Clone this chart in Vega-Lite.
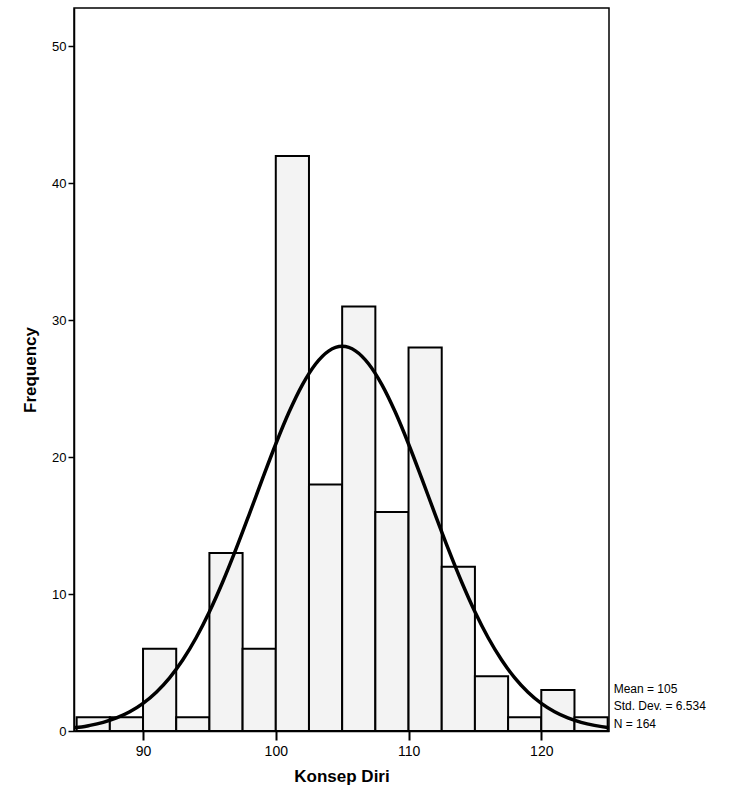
{
  "$schema": "https://vega.github.io/schema/vega-lite/v6.json",
  "width": 535,
  "height": 723,
  "autosize": {"type": "none"},
  "padding": {"left": 74, "top": 8, "right": 137, "bottom": 68},
  "background": "white",
  "config": {
    "view": {"stroke": "black", "strokeWidth": 1.5},
    "font": "Liberation Sans",
    "axis": {"domainColor": "black", "tickColor": "black", "labelColor": "black", "titleColor": "black", "grid": false, "labelFont": "Liberation Sans", "titleFont": "Liberation Sans"}
  },
  "datasets": {
    "bins": [
      {"start": 85, "end": 87.5, "count": 1},
      {"start": 87.5, "end": 90, "count": 1},
      {"start": 90, "end": 92.5, "count": 6},
      {"start": 92.5, "end": 95, "count": 1},
      {"start": 95, "end": 97.5, "count": 13},
      {"start": 97.5, "end": 100, "count": 6},
      {"start": 100, "end": 102.5, "count": 42},
      {"start": 102.5, "end": 105, "count": 18},
      {"start": 105, "end": 107.5, "count": 31},
      {"start": 107.5, "end": 110, "count": 16},
      {"start": 110, "end": 112.5, "count": 28},
      {"start": 112.5, "end": 115, "count": 12},
      {"start": 115, "end": 117.5, "count": 4},
      {"start": 117.5, "end": 120, "count": 1},
      {"start": 120, "end": 122.5, "count": 3},
      {"start": 122.5, "end": 125, "count": 1}
    ],
    "curve": [
      {"x": 84.8, "y": 0.25},
      {"x": 85, "y": 0.259},
      {"x": 86, "y": 0.410},
      {"x": 87, "y": 0.632},
      {"x": 88, "y": 0.952},
      {"x": 89, "y": 1.401},
      {"x": 90, "y": 2.014},
      {"x": 91, "y": 2.829},
      {"x": 92, "y": 3.881},
      {"x": 93, "y": 5.201},
      {"x": 94, "y": 6.809},
      {"x": 95, "y": 8.708},
      {"x": 96, "y": 10.878},
      {"x": 97, "y": 13.275},
      {"x": 98, "y": 15.824},
      {"x": 99, "y": 18.427},
      {"x": 100, "y": 20.960},
      {"x": 101, "y": 23.290},
      {"x": 102, "y": 25.280},
      {"x": 103, "y": 26.804},
      {"x": 104, "y": 27.763},
      {"x": 105, "y": 28.09},
      {"x": 106, "y": 27.763},
      {"x": 107, "y": 26.804},
      {"x": 108, "y": 25.280},
      {"x": 109, "y": 23.290},
      {"x": 110, "y": 20.960},
      {"x": 111, "y": 18.427},
      {"x": 112, "y": 15.824},
      {"x": 113, "y": 13.275},
      {"x": 114, "y": 10.878},
      {"x": 115, "y": 8.708},
      {"x": 116, "y": 6.809},
      {"x": 117, "y": 5.201},
      {"x": 118, "y": 3.881},
      {"x": 119, "y": 2.829},
      {"x": 120, "y": 2.014},
      {"x": 121, "y": 1.401},
      {"x": 122, "y": 0.952},
      {"x": 123, "y": 0.632},
      {"x": 124, "y": 0.410},
      {"x": 125, "y": 0.259},
      {"x": 125.1, "y": 0.25}
    ],
    "stats": [
      {"x": 125.3, "y": 3.1, "label": "Mean = 105"},
      {"x": 125.3, "y": 1.8, "label": "Std. Dev. = 6.534"},
      {"x": 125.3, "y": 0.5, "label": "N = 164"}
    ]
  },
  "layer": [
    {
      "data": {"name": "bins"},
      "mark": {"type": "rect", "fill": "#f3f3f3", "stroke": "black", "strokeWidth": 2},
      "encoding": {
        "x": {"field": "start", "type": "quantitative",
          "scale": {"domain": [84.8, 125.1], "nice": false, "zero": false},
          "axis": {"values": [90, 100, 110, 120], "title": "Konsep Diri", "titleFontSize": 17, "titleFontWeight": "bold", "titlePadding": 10, "labelFontSize": 14, "tickSize": 9, "tickWidth": 2, "labelPadding": 4, "domainWidth": 1.5}},
        "x2": {"field": "end"},
        "y": {"field": "count", "type": "quantitative",
          "scale": {"domain": [0, 52.8], "nice": false},
          "axis": {"values": [0, 10, 20, 30, 40, 50], "title": "Frequency", "titleFontSize": 17, "titleFontWeight": "bold", "titlePadding": 12, "labelFontSize": 13, "tickSize": 6, "tickWidth": 1.5, "labelPadding": 2, "domainWidth": 1.5}},
        "y2": {"datum": 0}
      }
    },
    {
      "data": {"name": "curve"},
      "mark": {"type": "line", "color": "black", "strokeWidth": 3.5, "interpolate": "monotone", "clip": true},
      "encoding": {
        "x": {"field": "x", "type": "quantitative"},
        "y": {"field": "y", "type": "quantitative"}
      }
    },
    {
      "data": {"name": "stats"},
      "mark": {"type": "text", "align": "left", "baseline": "middle", "fontSize": 12, "color": "black", "dx": 2, "clip": false},
      "encoding": {
        "x": {"field": "x", "type": "quantitative"},
        "y": {"field": "y", "type": "quantitative"},
        "text": {"field": "label"}
      }
    }
  ]
}
